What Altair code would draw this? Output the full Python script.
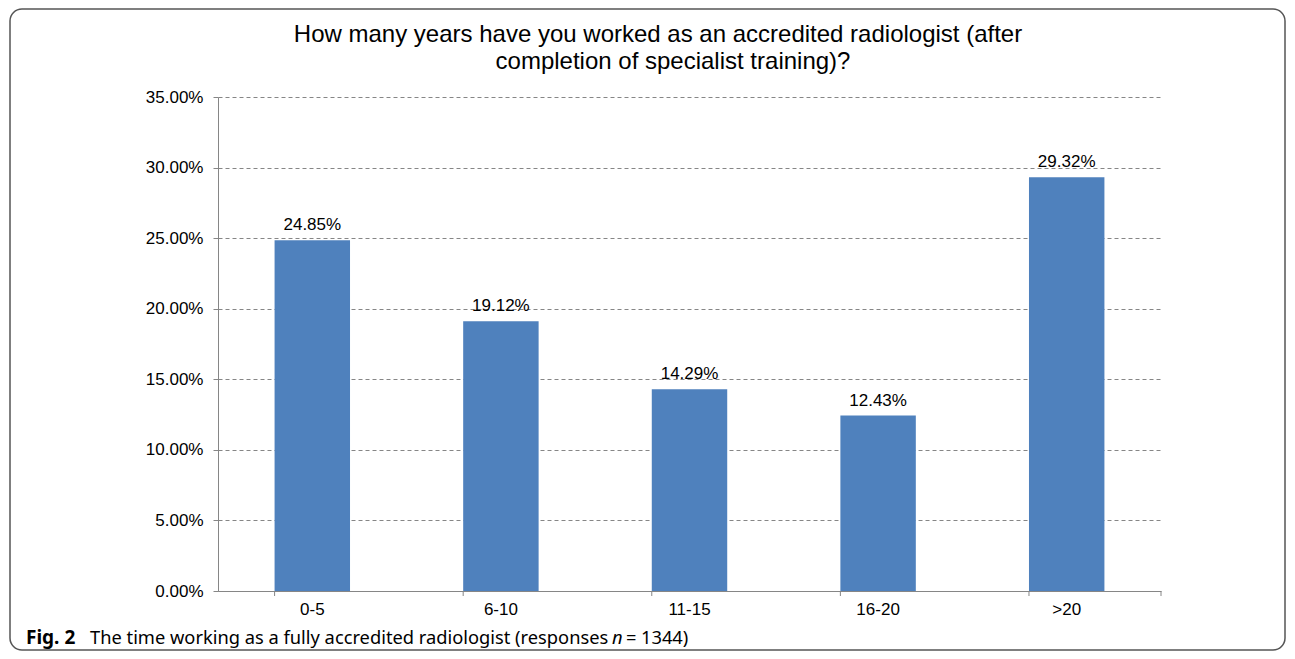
import altair as alt
import pandas as pd

categories = ["0-5", "6-10", "11-15", "16-20", ">20"]
shares = [0.2485, 0.1912, 0.1429, 0.1243, 0.2932]
y_ticks = [0.0, 0.05, 0.10, 0.15, 0.20, 0.25, 0.30, 0.35]

title_lines = [
    "How many years have you worked as an accredited radiologist (after",
    "completion of specialist training)?",
]
caption_parts = ["Fig. 2", "The time working as a fully accredited radiologist (responses", "n", "=", "1344)"]

df = pd.DataFrame({"cat": categories, "share": shares})

W, H = 943, 494
AXIS_FONT = "Liberation Sans"
GRAY = "#868686"
BLUE = "#4F81BD"

xscale = alt.Scale(domain=categories, paddingInner=0.6, paddingOuter=0.3)
yscale = alt.Scale(domain=[0, 0.35], nice=False)

base = alt.Chart(df)

bars = base.mark_bar(color=BLUE).encode(
    x=alt.X("cat:N", scale=xscale, sort=categories, title=None,
            axis=alt.Axis(labelAngle=0, ticks=False, domainColor=GRAY, domainWidth=1,
                          labelFont=AXIS_FONT, labelFontSize=17, labelColor="#000000",
                          labelPadding=10)),
    y=alt.Y("share:Q", scale=yscale, title=None,
            axis=alt.Axis(values=y_ticks, format=".2%", grid=True, gridColor=GRAY,
                          gridDash=[4, 3], gridWidth=1, domainColor=GRAY, tickColor=GRAY,
                          tickSize=5, labelFont=AXIS_FONT, labelFontSize=17,
                          labelColor="#000000", labelPadding=10)),
)

labels = base.mark_text(font=AXIS_FONT, fontSize=17, color="#000000", baseline="alphabetic",
                        align="center", dy=-10).encode(
    x=alt.X("cat:N", scale=xscale, sort=categories),
    y=alt.Y("share:Q", scale=yscale),
    text=alt.Text("share:Q", format=".2%"),
)

xticks = base.mark_rule(color=GRAY, strokeWidth=1).encode(
    x=alt.X("cat:N", scale=xscale, sort=categories, bandPosition=0),
    y=alt.value(H),
    y2=alt.value(H + 5),
)

one = alt.Data(values=[{"k": 0}])
end_tick = alt.Chart(one).mark_rule(color=GRAY, strokeWidth=1).encode(
    x=alt.value(W), y=alt.value(H), y2=alt.value(H + 5)
)

frame = alt.Chart(one).mark_rect(fill="white", fillOpacity=0, stroke="#555555",
                                 strokeWidth=1.5, cornerRadius=12).encode(
    x=alt.value(-208), x2=alt.value(1067), y=alt.value(-88), y2=alt.value(553)
)

TITLE_SIZE = 24
t1 = alt.Chart(one).mark_text(font=AXIS_FONT, fontSize=TITLE_SIZE, color="#000000", align="center",
                              baseline="alphabetic", text=title_lines[0]).encode(
    x=alt.value(440), y=alt.value(-55))
t2 = alt.Chart(one).mark_text(font=AXIS_FONT, fontSize=TITLE_SIZE, color="#000000", align="center",
                              baseline="alphabetic", text=title_lines[1]).encode(
    x=alt.value(455), y=alt.value(-28))

CAP_FONT = "Noto Sans"
CAP_SIZE = 18.3
cy = 547
c1 = alt.Chart(one).mark_text(font=CAP_FONT, fontSize=19, fontWeight="bold", color="#000000",
                              align="left", baseline="alphabetic", text=caption_parts[0]).encode(
    x=alt.value(26 - 218), y=alt.value(cy))
c2 = alt.Chart(one).mark_text(font=CAP_FONT, fontSize=CAP_SIZE, color="#000000",
                              align="left", baseline="alphabetic", text=caption_parts[1]).encode(
    x=alt.value(90 - 218), y=alt.value(cy))
c3 = alt.Chart(one).mark_text(font=CAP_FONT, fontSize=CAP_SIZE, fontStyle="italic", color="#000000",
                              align="left", baseline="alphabetic", text=caption_parts[2]).encode(
    x=alt.value(612 - 218), y=alt.value(cy))
c4 = alt.Chart(one).mark_text(font=CAP_FONT, fontSize=CAP_SIZE, color="#000000",
                              align="left", baseline="alphabetic", text=caption_parts[3]).encode(
    x=alt.value(626 - 218), y=alt.value(cy))
c5 = alt.Chart(one).mark_text(font=CAP_FONT, fontSize=CAP_SIZE, color="#000000",
                              align="left", baseline="alphabetic", text=caption_parts[4]).encode(
    x=alt.value(641 - 218), y=alt.value(cy))

chart = alt.layer(frame, bars, xticks, end_tick, labels, t1, t2, c1, c2, c3, c4, c5).properties(
    width=W, height=H,
    autosize=alt.AutoSizeParams(type="none"),
    padding={"left": 210, "top": 89, "right": 126, "bottom": 60},
    background="white",
).configure_view(stroke=None)

chart.save("out.html", embed_options={"renderer": "svg", "actions": False})
